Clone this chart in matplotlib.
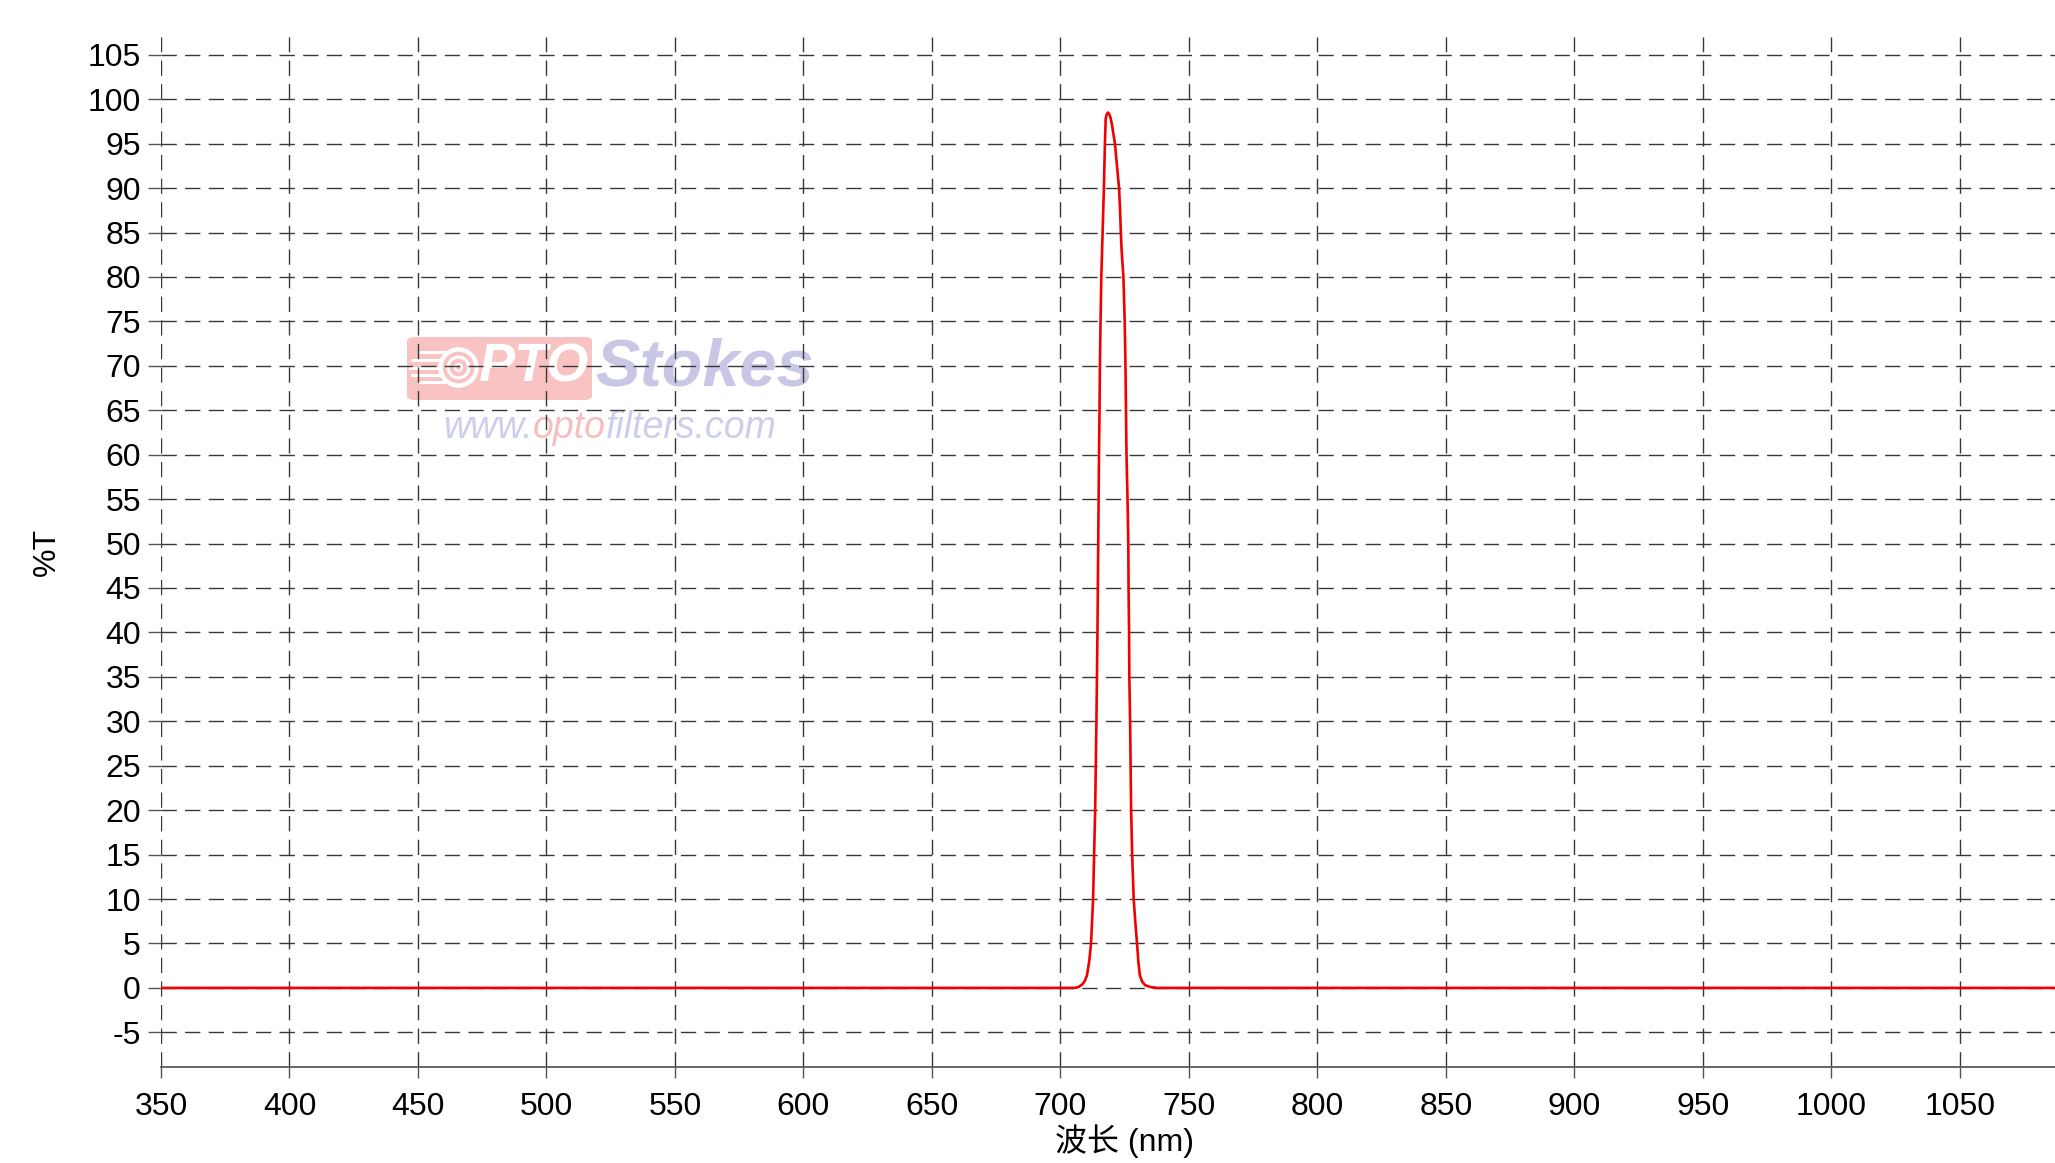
import matplotlib
matplotlib.use("Agg")
import matplotlib.pyplot as plt
from matplotlib.patches import FancyBboxPatch

plt.rcParams['font.family'] = ['Liberation Sans', 'Noto Sans CJK SC', 'DejaVu Sans']
plt.rcParams['axes.unicode_minus'] = False
plt.rcParams['lines.scale_dashes'] = False

# transmission curve (nm, %T)
wavelength = [350, 700, 705.5, 707, 708.5, 709.5, 710.3, 711.2, 711.9, 712.3, 712.7,
              713.1, 713.5, 713.75, 714.0, 714.2, 714.4, 714.55, 714.7, 714.85, 715.0,
              715.2, 715.35, 715.6, 715.9, 716.4, 716.9, 717.3, 717.6, 718.0, 718.5,
              719.0, 719.5, 720.0, 720.6, 721.2, 722.0, 722.8, 723.2, 723.5, 723.8,
              724.5, 725.0, 725.3, 725.5, 725.7, 726.1, 726.4, 726.5, 726.7, 726.8,
              727.1, 727.3, 727.5, 727.9, 728.5, 729.1, 729.8, 730.3, 730.9, 731.8,
              733.0, 735.0, 737.5, 740, 1090]
transmission = [0, 0, 0, 0.1, 0.4, 0.8, 1.4, 3.0, 5.0, 7.5, 10,
                15, 20, 25, 30, 35, 40, 45, 50, 55, 60,
                65, 70, 75, 80, 85, 90, 95, 97.8, 98.3, 98.5,
                98.3, 97.9, 97.2, 96.1, 95, 92.5, 90, 87.5, 85, 83,
                80, 75, 70, 65, 60, 55, 50, 45, 40, 35,
                30, 25, 20, 15, 10, 7.5, 5, 3.0, 1.4, 0.7,
                0.3, 0.1, 0, 0, 0]

x_ticks = list(range(350, 1051, 50))
y_ticks = list(range(-5, 106, 5))

W, H = 2055, 1163
fig = plt.figure(figsize=(W / 100, H / 100), dpi=100)
ax_l, ax_b, ax_r, ax_t = 161, 1067, W, 37
ax = fig.add_axes([ax_l / W, 1 - ax_b / H, (ax_r - ax_l) / W, (ax_b - ax_t) / H])


def fx(px):
    return (px - ax_l) / (ax_r - ax_l)


def fy(py):
    return (ax_b - py) / (ax_b - ax_t)


ax.plot(wavelength, transmission, color='#f00000', lw=1.9, zorder=3)

ax.set_xlim(350, 1087)
ax.set_ylim(-8.9, 107)
ax.set_xticks(x_ticks)
ax.set_yticks(y_ticks)
ax.grid(True, color='#383838', linewidth=1.0, linestyle=(0, (11, 6)))

for s in ['top', 'right', 'left']:
    ax.spines[s].set_visible(False)
ax.spines['bottom'].set_color('#5a5a5a')
ax.spines['bottom'].set_linewidth(1.3)

ax.tick_params(axis='x', labelsize=23, length=8, width=1, color='#555555', pad=10)
ax.tick_params(axis='y', labelsize=23, length=9.5, width=1, color='#555555', pad=5)

ax.set_xlabel('波长 (nm)', fontsize=23)
ax.xaxis.set_label_coords(0.5085, -0.056)
ax.set_ylabel('%T', fontsize=23)
ax.yaxis.set_label_coords(fx(62), 0.5)

# watermark logo
box = FancyBboxPatch((fx(407), fy(400)), fx(592) - fx(407), fy(337) - fy(400),
                     boxstyle='round,pad=0,rounding_size=0.004', transform=ax.transAxes,
                     fc='#f9c3c3', ec='none', zorder=0.2)
ax.add_patch(box)
for yy, x0 in [(352, 420), (360, 412), (368, 410), (375, 412), (382, 420)]:
    ax.plot([fx(x0), fx(446)], [fy(yy), fy(yy)], color='white', lw=2.2,
            transform=ax.transAxes, zorder=0.3, solid_capstyle='round')
for ms, mw in [(26, 3.2), (15, 2.2), (5, 1.5)]:
    ax.plot([fx(458)], [fy(367)], marker='o', ms=ms, mfc='#f9c3c3' if ms == 26 else 'none',
            mec='white', mew=mw, transform=ax.transAxes, zorder=0.35)
ax.text(fx(478), fy(368), 'PTO', transform=ax.transAxes, fontsize=39, fontweight='bold',
        style='italic', color='white', ha='left', va='center', zorder=0.4)
ax.text(fx(595), fy(368), 'Stokes', transform=ax.transAxes, fontsize=48, fontweight='bold',
        style='italic', color='#c8c8e6', ha='left', va='center', zorder=0.4)

t1 = ax.text(fx(443), fy(438), 'www.', transform=ax.transAxes, fontsize=27,
             style='italic', color='#cdcdec', ha='left', va='baseline', zorder=0.4)
t2 = ax.annotate('opto', xy=(1, 0), xycoords=t1, xytext=(0, 0), textcoords='offset points',
                 fontsize=27, style='italic', color='#f7bebe', ha='left', va='bottom',
                 zorder=0.4)
ax.annotate('filters.com', xy=(1, 0), xycoords=t2, xytext=(0, 0), textcoords='offset points',
            fontsize=27, style='italic', color='#cdcdec', ha='left', va='bottom', zorder=0.4)

fig.savefig('out.png', dpi=100)
